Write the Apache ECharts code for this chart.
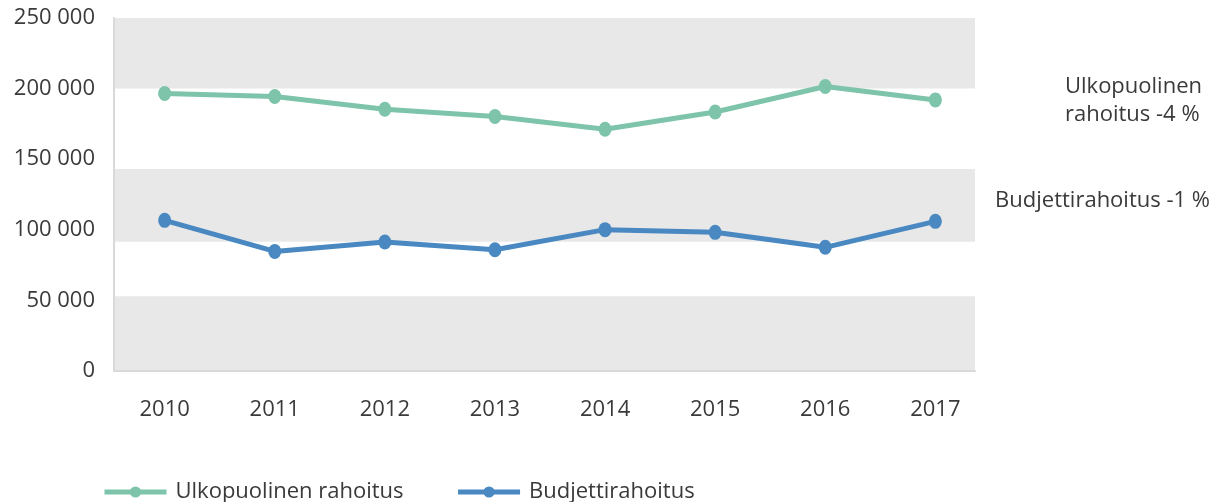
<!DOCTYPE html>
<html>
<head>
<meta charset="utf-8">
<script src="https://cdn.jsdelivr.net/npm/echarts@6/dist/echarts.min.js"></script>
<style>
  html, body { margin: 0; padding: 0; background: #fff; }
  #chart { width: 1223px; height: 502px; }
</style>
</head>
<body>
<div id="chart"></div>
<script>
const years = [2010, 2011, 2012, 2013, 2014, 2015, 2016, 2017];
const ulkopuolinen = [196500, 194400, 185400, 180200, 171200, 183400, 201500, 192000];
const budjetti = [106700, 84700, 91400, 85900, 100100, 98200, 87600, 106000];
const yTicks = [0, 50000, 100000, 150000, 200000, 250000];
// grey background stripes, in axis values
const bands = [[0, 53000], [91500, 143000], [200000, 250000]];

const FONT = "Open Sans";
const TEXT = "#3a3a3a";
const GREEN = "#7dc4aa";
const BLUE = "#4a88c2";

function fmtThousands(v) {
  return String(v).replace(/\B(?=(\d{3})+(?!\d))/g, " ");
}

const chart = echarts.init(document.getElementById("chart"), null, { renderer: "canvas" });

chart.setOption({
  animation: false,
  textStyle: { fontFamily: FONT },
  grid: { left: 114, right: 248, top: 18, bottom: 131 },
  legend: {
    data: ["Ulkopuolinen rahoitus", "Budjettirahoitus"],
    left: 102,
    top: 481,
    padding: 0,
    itemWidth: 62,
    itemHeight: 14,
    itemGap: 52,
    lineStyle: { width: 5 },
    textStyle: { fontFamily: FONT, fontSize: 22, color: TEXT, padding: [0, 0, 0, 4] }
  },
  xAxis: {
    type: "value",
    min: 2009.54,
    max: 2017.36,
    z: 5,
    axisLine: { show: true, lineStyle: { color: "#d9d9d9", width: 2 } },
    axisTick: { show: false },
    splitLine: { show: false },
    axisLabel: {
      customValues: years,
      formatter: (v) => String(v),
      fontFamily: FONT,
      fontSize: 22,
      color: TEXT,
      margin: 28
    }
  },
  yAxis: {
    type: "value",
    min: 0,
    max: 250000,
    interval: 50000,
    z: 5,
    axisLine: { show: true, lineStyle: { color: "#d9d9d9", width: 2 } },
    axisTick: { show: false },
    splitLine: { show: false },
    axisLabel: {
      customValues: yTicks,
      formatter: fmtThousands,
      fontFamily: FONT,
      fontSize: 22,
      color: TEXT,
      margin: 19
    }
  },
  graphic: [
    {
      type: "text",
      right: 21,
      top: 73,
      style: {
        text: "Ulkopuolinen\nrahoitus -4 %",
        font: "22px 'Open Sans'",
        fill: TEXT,
        align: "right",
        lineHeight: 28
      }
    },
    {
      type: "text",
      right: 13,
      top: 190,
      style: {
        text: "Budjettirahoitus -1 %",
        font: "22px 'Open Sans'",
        fill: TEXT,
        align: "right"
      }
    }
  ],
  series: [
    {
      name: "Ulkopuolinen rahoitus",
      type: "line",
      data: years.map((y, i) => [y, ulkopuolinen[i]]),
      symbol: "circle",
      symbolSize: [13, 15],
      lineStyle: { color: GREEN, width: 5 },
      itemStyle: { color: GREEN },
      markArea: {
        silent: true,
        itemStyle: { color: "#e8e8e8" },
        data: bands.map((b) => [{ yAxis: b[0] }, { yAxis: b[1] }])
      }
    },
    {
      name: "Budjettirahoitus",
      type: "line",
      data: years.map((y, i) => [y, budjetti[i]]),
      symbol: "circle",
      symbolSize: [13, 15],
      lineStyle: { color: BLUE, width: 5 },
      itemStyle: { color: BLUE }
    }
  ]
});
</script>
</body>
</html>
